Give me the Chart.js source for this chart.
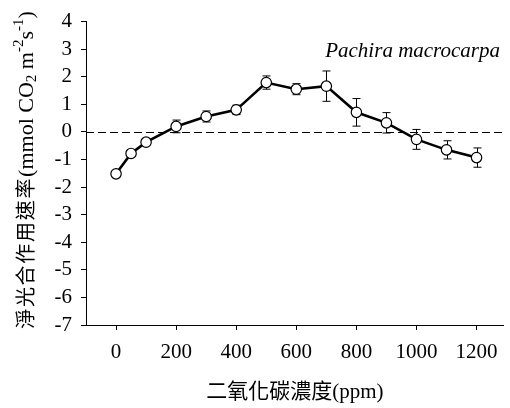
<!DOCTYPE html>
<html>
<head>
<meta charset="utf-8">
<script src="https://cdn.jsdelivr.net/npm/chart.js@4"></script>
<style>
  body { margin: 0; background: #fff; }
  #box { width: 510px; height: 408px; }
</style>
</head>
<body>
<div id="box"><canvas id="grafico" width="510" height="408"></canvas></div>
<script>
// CO2 concentration (ppm) and net photosynthesis rate
const co2 = [0, 50, 100, 200, 300, 400, 500, 600, 700, 800, 900, 1000, 1100, 1200];
const taxa = [-1.52, -0.78, -0.37, 0.2, 0.56, 0.8, 1.79, 1.55, 1.66, 0.71, 0.33, -0.27, -0.65, -0.93];
const erro = [0.1, 0.1, 0.1, 0.23, 0.2, 0.17, 0.24, 0.2, 0.55, 0.5, 0.37, 0.36, 0.33, 0.35];

const ticksX = [0, 200, 400, 600, 800, 1000, 1200];
const ticksY = [-7, -6, -5, -4, -3, -2, -1, 0, 1, 2, 3, 4];

const especie = 'Pachira macrocarpa';
const tituloX = '二氧化碳濃度(ppm)';
// y title in pieces: chinese / normal / subscript / superscript
const tituloY = [
    { t: '淨光合作用速率', tipo: 'cjk' },
    { t: '(mmol CO', tipo: 'n' },
    { t: '2', tipo: 'sub' },
    { t: ' m', tipo: 'n' },
    { t: '-2', tipo: 'sup' },
    { t: 's', tipo: 'n' },
    { t: '-1', tipo: 'sup' },
    { t: ')', tipo: 'n' }
];

const serif = "'Liberation Serif', 'Noto Sans CJK TC', serif";

// error bars + dashed zero line, drawn under the line
const extras = {
    id: 'extras',
    beforeDatasetsDraw(chart) {
        const c = chart.ctx;
        const sx = chart.scales.x, sy = chart.scales.y;
        const area = chart.chartArea;
        c.save();
        c.strokeStyle = '#000';
        c.lineWidth = 1;
        c.setLineDash([8, 4]);
        let y0 = Math.round(sy.getPixelForValue(0)) + 0.5;
        c.beginPath();
        c.moveTo(area.left, y0);
        c.lineTo(area.right, y0);
        c.stroke();
        c.setLineDash([]);
        for (let i = 0; i < co2.length; i++) {
            let x = Math.round(sx.getPixelForValue(co2[i])) + 0.5;
            let yt = sy.getPixelForValue(taxa[i] + erro[i]);
            let yb = sy.getPixelForValue(taxa[i] - erro[i]);
            c.beginPath();
            c.moveTo(x, yt); c.lineTo(x, yb);
            c.moveTo(x - 4, yt); c.lineTo(x + 4, yt);
            c.moveTo(x - 4, yb); c.lineTo(x + 4, yb);
            c.stroke();
        }
        c.restore();
    },
    afterDraw(chart) {
        const c = chart.ctx;
        c.save();
        c.fillStyle = '#000';
        // species name
        c.font = 'italic 21px ' + serif;
        c.textAlign = 'right';
        c.textBaseline = 'alphabetic';
        c.fillText(especie, 500, 57);

        // rotated y title
        const fontes = { cjk: '20px ' + serif, n: '22px ' + serif, sub: '15px ' + serif, sup: '15px ' + serif };
        const espaco = { cjk: '1.7px', n: '0px', sub: '0px', sup: '0px' };
        const desloc = { cjk: 0, n: 0, sub: 3, sup: -10 };
        const medir = p => {
            c.font = fontes[p.tipo];
            c.letterSpacing = espaco[p.tipo];
            return c.measureText(p.t).width;
        };
        let total = 0;
        tituloY.forEach(p => { total += medir(p); });
        c.translate(33, 170);
        c.rotate(-Math.PI / 2);
        c.textAlign = 'left';
        let pos = -total / 2;
        tituloY.forEach(p => {
            let w = medir(p);
            c.fillText(p.t, pos, desloc[p.tipo]);
            pos += w;
        });
        c.restore();
    }
};

const ctx = document.getElementById('grafico').getContext('2d');
const grafico = new Chart(ctx, {
    type: 'line',
    data: {
        datasets: [{
            data: co2.map((v, i) => ({ x: v, y: taxa[i] })),
            borderColor: '#000',
            borderWidth: 2.6,
            pointRadius: 5.2,
            pointBackgroundColor: '#fff',
            pointBorderColor: '#000',
            pointBorderWidth: 1.2,
            tension: 0,
            fill: false
        }]
    },
    plugins: [extras],
    options: {
        responsive: false,
        animation: false,
        events: [],
        layout: { padding: { top: 19, right: 0, left: 0, bottom: 0 } },
        plugins: {
            legend: { display: false },
            tooltip: { enabled: false }
        },
        scales: {
            x: {
                type: 'linear',
                min: -100,
                max: 1290,
                afterBuildTicks: s => { s.ticks = ticksX.map(v => ({ value: v })); },
                afterFit: s => { s.height = 83; },
                grid: { drawOnChartArea: false, color: '#000', tickLength: 5, tickWidth: 1 },
                border: { color: '#000', width: 1 },
                ticks: { color: '#000', font: { family: serif, size: 21 }, padding: 10, maxRotation: 0, autoSkip: false, callback: v => String(v) },
                title: { display: true, text: tituloX, color: '#000', font: { family: serif, size: 21 }, padding: { top: 0, bottom: 3 } }
            },
            y: {
                min: -7,
                max: 4,
                afterBuildTicks: s => { s.ticks = ticksY.map(v => ({ value: v })); },
                afterFit: s => { s.width = 86; },
                grid: { drawOnChartArea: false, color: '#000', tickLength: 5, tickWidth: 1 },
                border: { color: '#000', width: 1 },
                ticks: { color: '#000', font: { family: serif, size: 21 }, padding: 9, autoSkip: false, callback: v => String(v) }
            }
        }
    }
});
</script>
</body>
</html>
